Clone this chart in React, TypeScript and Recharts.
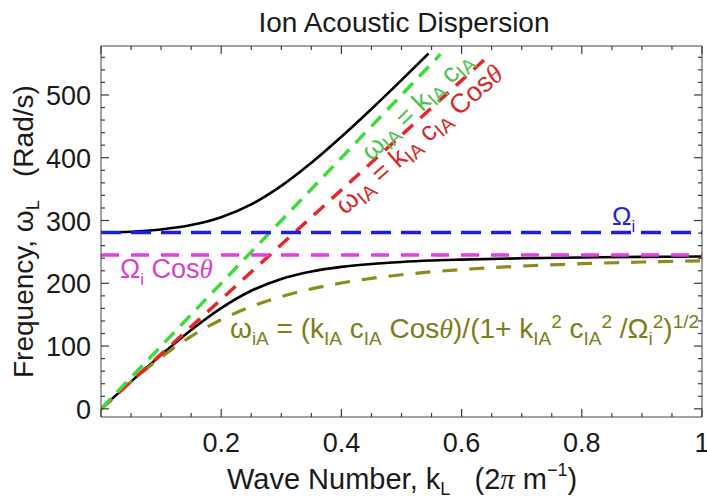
import React from 'react';
import { LineChart, Line, XAxis, YAxis } from 'recharts';

// wave number grid (2π m^-1) and frequencies (rad/s)
const upperK = [0, 0.05, 0.1, 0.15, 0.2, 0.25, 0.3, 0.35, 0.4, 0.45, 0.5, 0.545];
const upperW = [281, 282.1, 285.7, 292.7, 305.3, 325.7, 355.1, 391.9, 433.4, 477.7, 523.7, 566];

const lowerK = [0, 0.02, 0.05, 0.1, 0.15, 0.2, 0.25, 0.3, 0.35, 0.4, 0.45, 0.5, 0.55, 0.6, 0.7, 0.8, 0.9, 1];
const lowerW = [0, 17.4, 43.4, 85.8, 125.6, 160.5, 188.1, 207, 218.9, 226.2, 230.8, 234, 236.2, 237.7, 239.8, 241.1, 242, 242.6];

const approxK = [0, 0.05, 0.1, 0.15, 0.2, 0.25, 0.3, 0.35, 0.4, 0.5, 0.6, 0.7, 0.8, 0.9, 1];
const approxW = [0, 42.9, 82.2, 115.4, 142.1, 162.9, 178.8, 191.1, 200.5, 213.6, 221.9, 227.4, 231.2, 233.9, 235.9];

const soundK = [0, 0.565];
const soundW = [0, 565];
const obliqueK = [0, 0.648];
const obliqueW = [0, 565];

const gyroK = [0, 1];
const gyroW = [281, 281];
const gyroCosW = [245, 245];

const xTicks = [0, 0.05, 0.1, 0.15, 0.2, 0.25, 0.3, 0.35, 0.4, 0.45, 0.5, 0.55, 0.6, 0.65, 0.7, 0.75, 0.8, 0.85, 0.9, 0.95, 1];
const yTicks = [0, 20, 40, 60, 80, 100, 120, 140, 160, 180, 200, 220, 240, 260, 280, 300, 320, 340, 360, 380, 400, 420, 440, 460, 480, 500, 520, 540, 560];
const xDomain = [0, 1];
const yDomain = [-13, 578];

const zip = (ks: number[], ws: number[]) => ks.map((k, i) => ({ k, w: ws[i] }));

const FONT = '"Liberation Sans", Arial, Helvetica, sans-serif';
const SERIF = '"Liberation Serif", "Times New Roman", serif';
const TICK = '#3a3a3a';

const isMajorX = (v: number) => Math.abs(v * 5 - Math.round(v * 5)) < 1e-6;
const isMajorY = (v: number) => v % 100 === 0;

function BottomTick({ x, y, payload }: any) {
  const v = payload.value;
  const major = isMajorX(v);
  return (
    <g>
      <line x1={x} x2={x} y1={y} y2={y - (major ? 8 : 4)} stroke={TICK} strokeWidth={1.2} />
      {major && v > 0 && (
        <text x={x} y={y + 35} textAnchor="middle" fontSize={27} fontFamily={FONT} fill="#1a1a1a">
          {v === 1 ? '1' : v.toFixed(1)}
        </text>
      )}
    </g>
  );
}

function TopTick({ x, y, payload }: any) {
  const major = isMajorX(payload.value);
  return <line x1={x} x2={x} y1={y} y2={y + (major ? 8 : 4)} stroke={TICK} strokeWidth={1.2} />;
}

function LeftTick({ x, y, payload }: any) {
  const v = payload.value;
  const major = isMajorY(v);
  return (
    <g>
      <line x1={x} x2={x + (major ? 8 : 4)} y1={y} y2={y} stroke={TICK} strokeWidth={1.2} />
      {major && (
        <text x={x - 10} y={y + 10} textAnchor="end" fontSize={27} fontFamily={FONT} fill="#1a1a1a">
          {v}
        </text>
      )}
    </g>
  );
}

function RightTick({ x, y, payload }: any) {
  const major = isMajorY(payload.value);
  return <line x1={x} x2={x - (major ? 8 : 4)} y1={y} y2={y} stroke={TICK} strokeWidth={1.2} />;
}

// text runs: plain, subscript, superscript or italic serif
type Seg = [string, ('sub' | 'sup' | 'it')?];

function Rich({ segs, small, sub, sup }: { segs: Seg[]; small: number; sub: number; sup: number }) {
  let cur = 0;
  return (
    <>
      {segs.map(([t, kind], i) => {
        const target = kind === 'sub' ? sub : kind === 'sup' ? -sup : 0;
        const dy = target - cur;
        cur = target;
        const isSmall = kind === 'sub' || kind === 'sup';
        return (
          <tspan
            key={i}
            dy={dy !== 0 ? dy : undefined}
            fontSize={isSmall ? small : undefined}
            fontFamily={kind === 'it' ? SERIF : undefined}
            fontStyle={kind === 'it' ? 'italic' : undefined}
          >
            {t}
          </tspan>
        );
      })}
    </>
  );
}

const yLabel: Seg[] = [['Frequency, '], ['ω'], ['L', 'sub'], ['   (Rad/s)']];
const xLabel: Seg[] = [['Wave Number, k'], ['L', 'sub'], ['   (2'], ['π', 'it'], [' m'], ['−1', 'sup'], [')']];
const gyroLabel: Seg[] = [['Ω'], ['i', 'sub']];
const gyroCosLabel: Seg[] = [['Ω'], ['i', 'sub'], [' Cos'], ['θ', 'it']];
const soundLabel: Seg[] = [['ω'], ['IA', 'sub'], [' = k'], ['IA', 'sub'], [' c'], ['IA', 'sub']];
const obliqueLabel: Seg[] = [['ω'], ['IA', 'sub'], [' = k'], ['IA', 'sub'], [' c'], ['IA', 'sub'], [' Cos'], ['θ', 'it']];
const approxLabel: Seg[] = [
  ['ω'], ['iA', 'sub'], [' = (k'], ['IA', 'sub'], [' c'], ['IA', 'sub'], [' Cos'], ['θ', 'it'],
  [')/(1+ k'], ['IA', 'sub'], ['2', 'sup'], [' c'], ['IA', 'sub'], ['2', 'sup'], [' /Ω'], ['i', 'sub'], ['2', 'sup'],
  [')'], ['1/2', 'sup'],
];

function Annotations() {
  const pre = { whiteSpace: 'pre' as const };
  return (
    <svg width={707} height={496} style={{ position: 'absolute', left: 0, top: 0, pointerEvents: 'none' }}>
      <text x={404} y={32} textAnchor="middle" fontSize={28} fontFamily={FONT} fill="#1a1a1a">
        Ion Acoustic Dispersion
      </text>

      <text transform="translate(33,378) rotate(-90)" fontSize={28} fontFamily={FONT} fill="#1a1a1a" style={pre}>
        <Rich segs={yLabel} small={18} sub={6} sup={10} />
      </text>

      <text x={227} y={489} fontSize={29} fontFamily={FONT} fill="#1a1a1a" style={pre}>
        <Rich segs={xLabel} small={18} sub={6} sup={13} />
      </text>

      <text x={612} y={225} fontSize={26} fontFamily={FONT} fill="#2424d0" style={pre}>
        <Rich segs={gyroLabel} small={17} sub={7} sup={10} />
      </text>

      <text x={120} y={278} fontSize={27} fontFamily={FONT} fill="#d444c8" style={pre}>
        <Rich segs={gyroCosLabel} small={17} sub={7} sup={10} />
      </text>

      <text transform="translate(423,112) rotate(-44)" textAnchor="middle" fontSize={27} fontFamily={FONT} fill="#4cc24c" style={pre}>
        <Rich segs={soundLabel} small={20} sub={5} sup={10} />
      </text>

      <text transform="translate(425,146) rotate(-41)" textAnchor="middle" fontSize={27} fontFamily={FONT} fill="#d42a2a" style={pre}>
        <Rich segs={obliqueLabel} small={20} sub={5} sup={10} />
      </text>

      <text x={230} y={338} fontSize={28} fontFamily={FONT} fill="#7d7d18" style={pre}>
        <Rich segs={approxLabel} small={19} sub={7} sup={10} />
      </text>
    </svg>
  );
}

export default function App() {
  return (
    <div style={{ position: 'absolute', left: 0, top: 0, width: 707, height: 496, background: '#fff' }}>
      <LineChart width={707} height={496} margin={{ top: 40, right: 0, bottom: 0, left: 0 }}>
        <XAxis
          xAxisId={0}
          type="number"
          dataKey="k"
          domain={xDomain}
          ticks={xTicks}
          interval={0}
          allowDataOverflow
          height={79}
          tickSize={0}
          tickMargin={0}
          tickLine={false}
          stroke="#444"
          tick={<BottomTick />}
        />
        <XAxis
          xAxisId="top"
          orientation="top"
          type="number"
          dataKey="k"
          domain={xDomain}
          ticks={xTicks}
          interval={0}
          allowDataOverflow
          height={6}
          tickSize={0}
          tickMargin={0}
          tickLine={false}
          stroke="#444"
          tick={<TopTick />}
        />
        <YAxis
          yAxisId={0}
          type="number"
          domain={yDomain}
          ticks={yTicks}
          interval={0}
          allowDataOverflow
          width={101}
          tickSize={0}
          tickMargin={0}
          tickLine={false}
          stroke="#444"
          tick={<LeftTick />}
        />
        <YAxis
          yAxisId="right"
          orientation="right"
          type="number"
          domain={yDomain}
          ticks={yTicks}
          interval={0}
          allowDataOverflow
          width={5}
          tickSize={0}
          tickMargin={0}
          tickLine={false}
          stroke="#444"
          tick={<RightTick />}
        />

        <Line data={zip(lowerK, lowerW)} dataKey="w" type="monotone" stroke="#000" strokeWidth={2.6} dot={false} isAnimationActive={false} />
        <Line data={zip(upperK, upperW)} dataKey="w" type="monotone" stroke="#000" strokeWidth={2.6} dot={false} isAnimationActive={false} />
        <Line data={zip(approxK, approxW)} dataKey="w" type="monotone" stroke="#8c8c1c" strokeWidth={3.2} strokeDasharray="15 12" dot={false} isAnimationActive={false} />
        <Line data={zip(obliqueK, obliqueW)} dataKey="w" type="linear" stroke="#e8262a" strokeWidth={3.5} strokeDasharray="14 10" dot={false} isAnimationActive={false} />
        <Line data={zip(soundK, soundW)} dataKey="w" type="linear" stroke="#3ddc3d" strokeWidth={3.5} strokeDasharray="14 9" dot={false} isAnimationActive={false} />
        <Line data={zip(gyroK, gyroW)} dataKey="w" type="linear" stroke="#1c1cf0" strokeWidth={3.5} strokeDasharray="20 10" dot={false} isAnimationActive={false} />
        <Line data={zip(gyroK, gyroCosW)} dataKey="w" type="linear" stroke="#e23ee2" strokeWidth={3.5} strokeDasharray="18 12" dot={false} isAnimationActive={false} />
      </LineChart>
      <Annotations />
    </div>
  );
}
